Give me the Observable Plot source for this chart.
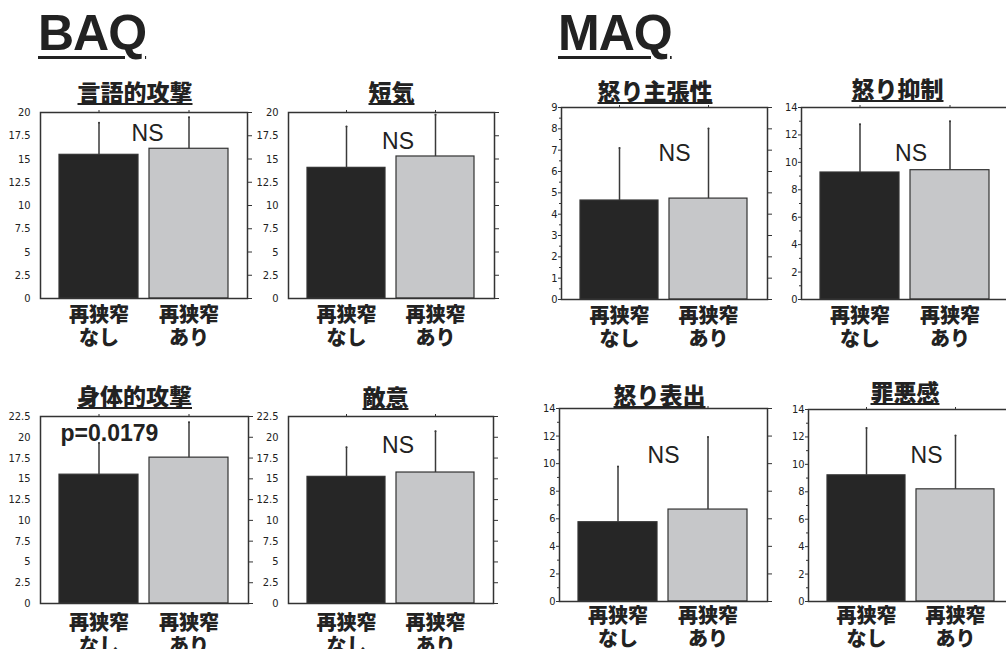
<!DOCTYPE html>
<html><head><meta charset="utf-8">
<script src="https://cdn.jsdelivr.net/npm/d3@7"></script>
<script src="https://cdn.jsdelivr.net/npm/@observablehq/plot@0.6"></script>
<style>
html,body{margin:0;padding:0;background:#fff}
body{width:1006px;height:649px;overflow:hidden;position:relative;font-family:"Noto Sans CJK JP",sans-serif;color:#222}
.panel{position:absolute}
.panel svg{overflow:visible;max-width:none !important;display:block}
.sec{position:absolute;font-family:"Liberation Sans",Arial,sans-serif;font-weight:bold;font-size:50px;line-height:1;letter-spacing:-1px;text-decoration:underline;text-decoration-thickness:3px;text-underline-offset:6px;color:#222}
.ttl{position:absolute;font-family:"Noto Sans CJK JP",sans-serif;font-weight:900;font-size:23px;line-height:1;white-space:nowrap;transform:translateX(-50%);text-decoration:underline;text-decoration-thickness:2px;text-underline-offset:2px;color:#222}
</style>
</head><body>
<div class="sec" style="left:38px;top:8px">BAQ</div>
<div class="sec" style="left:558px;top:8px">MAQ</div>
<script>
// ---- data ----
const sections = ["BAQ", "MAQ"];
const titles = ["言語的攻撃", "短気", "身体的攻撃", "敵意", "怒り主張性", "怒り抑制", "怒り表出", "罪悪感"];
const groups = ["再狭窄\nなし", "再狭窄\nあり"];
const meanNone  = [15.45, 14.05, 15.5, 15.24, 4.64, 9.26, 5.75, 9.2];
const meanYes   = [16.1, 15.27, 17.55, 15.76, 4.73, 9.43, 6.67, 8.18];
const upperNone = [18.9, 18.5, 19.3, 18.8, 7.1, 12.78, 9.8, 12.66];
const upperYes  = [19.5, 19.75, 21.8, 20.74, 8.02, 13.0, 11.93, 12.1];
const yMax   = [20, 20, 22.5, 22.5, 9, 14, 14, 14];
const yStep  = [2.5, 2.5, 2.5, 2.5, 1, 2, 2, 2];
const yMinor = [0, 0, 0, 0, 0.5, 1, 1, 1];
const notes  = ["NS", "NS", "p=0.0179", "NS", "NS", "NS", "NS", "NS"];
const panelSection = ["BAQ", "BAQ", "BAQ", "BAQ", "MAQ", "MAQ", "MAQ", "MAQ"];

// ---- layout (frame left, right, top, bottom) ----
const frames = [[40,247,112,298],[288,494,112,298],[40,248,416,603],[288,493,416,603],
                [561,767,107,299],[801,1008,107,299],[559,767,408,601],[808,1013,409,601]];
const noteOffset = [[3.5,21.5],[6.5,29.5],[20,17],[7,29],[10,46],[6,46],[0,47],[15.5,46]];
const titlePos = [[135,93],[391.5,93],[134.5,397],[385.5,397.5],[655,92],[897.5,90],[659.5,396],[905,393]];
const labelPad = [7, 7, 10, 10, 7, 7, 5.5, 5.5];

const ML = 40, MR = 12, MT = 8, MB = 56;
const ink = "#333";

titles.forEach((t, i) => {
  const [L, R, T, B] = frames[i];
  const baq = panelSection[i] === "BAQ";
  const rows = groups.map((g, j) => ({
    group: g,
    mean: j === 0 ? meanNone[i] : meanYes[i],
    upper: j === 0 ? upperNone[i] : upperYes[i]
  }));
  const majors = d3.range(0, yMax[i] + 1e-9, yStep[i]);
  const minors = yMinor[i] ? d3.range(0, yMax[i] + 1e-9, yMinor[i]).filter(v => !majors.some(m => Math.abs(m - v) < 1e-9)) : [];
  const isP = notes[i].startsWith("p");
  const [ndx, ndy] = noteOffset[i];

  const marks = [
    Plot.barY(rows, {x: "group", y: "mean", fill: "group", stroke: ink, strokeWidth: 1.2}),
    Plot.ruleX(rows, {x: "group", y1: "mean", y2: "upper", stroke: "#3a3a3a", strokeWidth: 1.5}),
    Plot.dot(rows, {x: "group", y: "upper", r: 1, fill: "#3a3a3a"}),
    Plot.frame({stroke: ink, strokeWidth: 1.5}),
    Plot.axisY({anchor: "left", ticks: majors, tickSize: baq ? 0 : 3, tickPadding: baq ? 10 : 1,
      fontSize: 11, fontFamily: "'DejaVu Sans Condensed','Liberation Sans Narrow',sans-serif",
      tickFormat: d => String(d), label: null, stroke: ink}),
    Plot.axisY({anchor: "right", ticks: majors, tickSize: 4, tickFormat: () => "", label: null, stroke: ink}),
    Plot.axisX({anchor: "top", tickSize: 3, tickFormat: () => "", label: null, stroke: ink}),
    Plot.axisX({anchor: "bottom", tickSize: 0, tickPadding: labelPad[i], fontSize: 20, fontWeight: 900,
      fontFamily: "'Noto Sans CJK JP',sans-serif", lineHeight: 1.15, label: null, fill: "#222"}),
    Plot.text([notes[i]], {
      text: d => d,
      frameAnchor: isP ? "top-left" : "top",
      textAnchor: isP ? "start" : "middle",
      lineAnchor: "middle",
      dx: ndx, dy: ndy,
      fontSize: 23,
      fontWeight: isP ? "bold" : "normal",
      fontFamily: "'Liberation Sans',Arial,sans-serif",
      fill: "#222"
    })
  ];
  if (minors.length) {
    marks.push(Plot.axisY({anchor: "left", ticks: minors, tickSize: 2, tickFormat: () => "", label: null, stroke: ink}));
  }

  const w = (R - L) + ML + MR, h = (B - T) + MT + MB;
  const chart = Plot.plot({
    width: w,
    height: h,
    marginLeft: ML, marginRight: MR, marginTop: MT, marginBottom: MB,
    x: {domain: groups, paddingInner: 0.12, paddingOuter: 0.21},
    y: {domain: [0, yMax[i]]},
    color: {domain: groups, range: ["#262626", "#c6c7c9"]},
    style: {background: "transparent", color: "#222", fontFamily: "'Noto Sans CJK JP',sans-serif", overflow: "visible", maxWidth: "none", width: w + "px", height: h + "px"},
    marks
  });
  const wrap = document.createElement("div");
  wrap.className = "panel";
  wrap.style.left = (L - ML) + "px";
  wrap.style.top = (T - MT) + "px";
  wrap.style.width = w + "px";
  wrap.appendChild(chart);
  document.body.appendChild(wrap);

  const tt = document.createElement("div");
  tt.className = "ttl";
  tt.textContent = t;
  tt.style.left = titlePos[i][0] + "px";
  tt.style.top = (titlePos[i][1] - 12.8) + "px";
  document.body.appendChild(tt);
});
</script>
</body></html>
